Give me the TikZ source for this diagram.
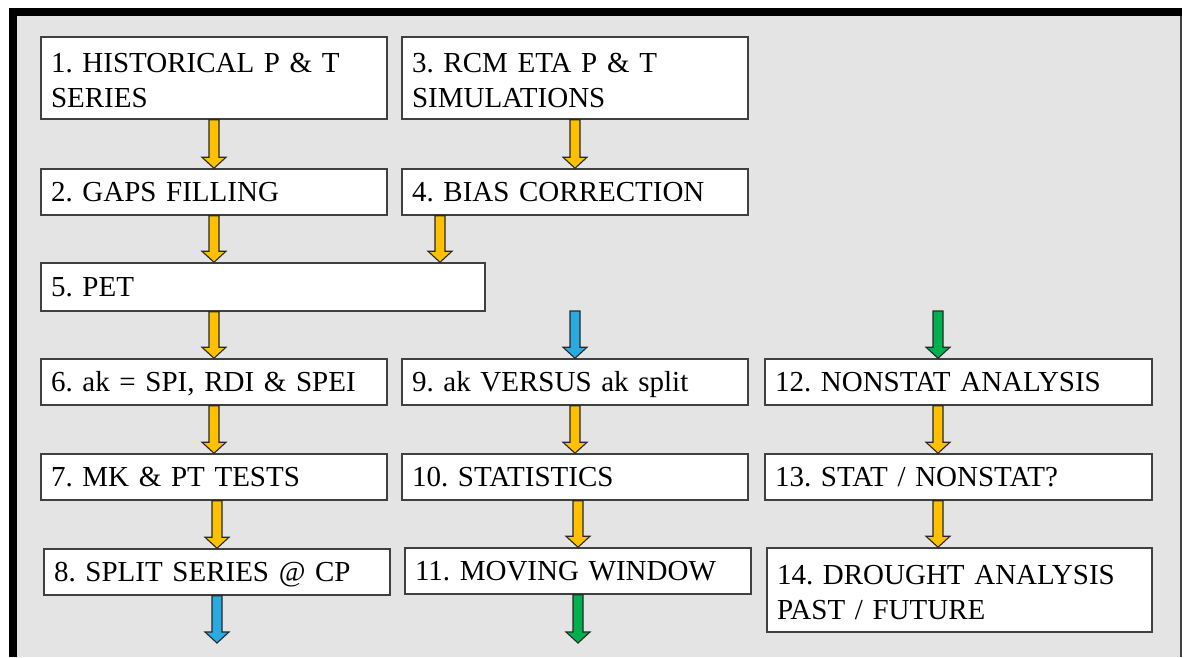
\documentclass[tikz,border=0pt]{standalone}
\usepackage{fontspec}
\setmainfont{Liberation Serif}
\newfontfamily\tnrfont{Liberation Serif}
\usetikzlibrary{calc}
\frenchspacing
\definecolor{bggrey}{RGB}{228,228,228}
\definecolor{boxline}{RGB}{64,64,64}
\definecolor{arrline}{RGB}{40,40,40}
\definecolor{gold}{RGB}{255,192,0}
\definecolor{skyblue}{RGB}{41,171,226}
\definecolor{leafgreen}{RGB}{0,176,80}
\newcommand\blockarr[3]{%
  \path[draw=arrline,line width=1.1pt,fill=#3,line join=miter]
    let \p1=#1, \p2=#2 in
    (\x1-5pt,\y1) -- (\x1-5pt,\y2+11pt) -- (\x1-12pt,\y2+11pt) -- (\x1,\y2)
    -- (\x1+12pt,\y2+11pt) -- (\x1+5pt,\y2+11pt) -- (\x1+5pt,\y1) -- cycle;}
\tikzset{
  box/.style={draw=boxline, line width=1.5pt, fill=white, inner xsep=10pt, inner ysep=0pt,
    align=left, text=black, font=\tnrfont\frenchspacing\fontsize{29}{35}\selectfont,
    text height=19pt, text depth=0pt},
  twoline/.style={text depth=31pt},
}
\begin{document}
\begin{tikzpicture}[x=1pt,y=-1pt]
\useasboundingbox (0,0) rectangle (1184,657);
% frame
\fill[bggrey] (17,16) rectangle (1181,657);
\fill[black] (9,8) rectangle (1182,16);
\fill[black] (9,8) rectangle (17,657);
\fill[boxline] (1180,16) rectangle (1182,657);
% boxes
\node[box, twoline, text width=326pt, minimum height=82pt] (b1) at (214,78) {1. HISTORICAL P \& T\\SERIES};
\node[box, twoline, text width=326pt, minimum height=82pt] (b3) at (575,78) {3. RCM ETA P \& T\\SIMULATIONS};
\node[box, text width=326pt, minimum height=46pt] (b2) at (214,192) {2. GAPS FILLING};
\node[box, text width=326pt, minimum height=46pt] (b4) at (575,192) {4. BIAS CORRECTION};
\node[box, text width=424pt, minimum height=48pt] (b5) at (263,287) {5. PET};
\node[box, text width=326pt, minimum height=46pt] (b6) at (214,382) {6. ak = SPI, RDI \& SPEI};
\node[box, text width=326pt, minimum height=46pt] (b9) at (575,382) {9. ak VERSUS ak split};
\node[box, text width=367pt, minimum height=46pt] (b12) at (958.5,382) {12. NONSTAT ANALYSIS};
\node[box, text width=326pt, minimum height=46pt] (b7) at (214,477) {7. MK \& PT TESTS};
\node[box, text width=326pt, minimum height=46pt] (b10) at (575,477) {10. STATISTICS};
\node[box, text width=367pt, minimum height=46pt] (b13) at (958.5,477) {13. STAT / NONSTAT?};
\node[box, text width=326pt, minimum height=46pt] (b8) at (217,572) {8. SPLIT SERIES @ CP};
\node[box, text width=326pt, minimum height=46pt] (b11) at (578,571) {11. MOVING WINDOW};
\node[box, twoline, text width=365pt, minimum height=84pt] (b14) at (959.5,590) {14. DROUGHT ANALYSIS\\PAST / FUTURE};
% free ends
\coordinate (cb) at (575,311);
\coordinate (cg) at (938,311);
\coordinate (eb) at (217,643);
\coordinate (eg) at (578,643);
% arrows
\blockarr{(b1.south)}{(b2.north)}{gold}
\blockarr{(b3.south)}{(b4.north)}{gold}
\blockarr{(b2.south)}{(b5.north)}{gold}
\blockarr{([xshift=-135pt]b4.south)}{(b5.north)}{gold}
\blockarr{(b6.north |- b5.south)}{(b6.north)}{gold}
\blockarr{(cb)}{(b9.north)}{skyblue}
\blockarr{(cg)}{(b12.north)}{leafgreen}
\blockarr{(b6.south)}{(b7.north)}{gold}
\blockarr{(b9.south)}{(b10.north)}{gold}
\blockarr{([xshift=-20.5pt]b12.south)}{(b13.north)}{gold}
\blockarr{(b8.north |- b7.south)}{(b8.north)}{gold}
\blockarr{(b11.north |- b10.south)}{(b11.north)}{gold}
\blockarr{([xshift=-20.5pt]b13.south)}{(b14.north)}{gold}
\blockarr{(b8.south)}{(eb)}{skyblue}
\blockarr{(b11.south)}{(eg)}{leafgreen}
\end{tikzpicture}
\end{document}
